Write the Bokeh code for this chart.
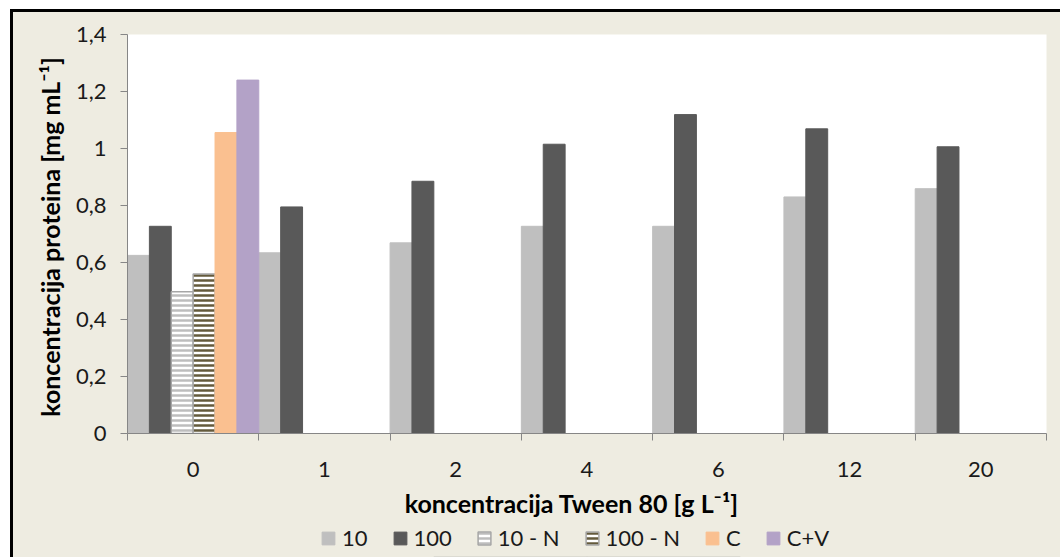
from bokeh.plotting import figure
from bokeh.models import (Range1d, FixedTicker, Legend, LegendItem, ColumnDataSource)
from bokeh.layouts import column
from bokeh.embed import file_html
from bokeh.resources import INLINE

categories = ["0", "1", "2", "4", "6", "12", "20"]
series_names = ["10", "100", "10 - N", "100 - N", "C", "C+V"]
s10 = [0.625, 0.634, 0.669, 0.727, 0.727, 0.830, 0.859]
s100 = [0.727, 0.795, 0.885, 1.015, 1.119, 1.069, 1.006]
s10N = [0.497]
s100N = [0.560]
sC = [1.056]
sCV = [1.240]
y_ticks = [0, 0.2, 0.4, 0.6, 0.8, 1.0, 1.2, 1.4]
y_tick_labels = ["0", "0,2", "0,4", "0,6", "0,8", "1", "1,2", "1,4"]

FONT = "Lato"
AXIS_GRAY = "#868686"
BG = "#EEECE1"
W = 1047

p = figure(width=W, height=513, output_backend="svg", toolbar_location=None,
           x_range=Range1d(0, len(categories)), y_range=Range1d(0, 1.4),
           min_border_left=114, min_border_top=22, min_border_right=14, min_border_bottom=92)
p.background_fill_color = "white"
p.border_fill_color = BG
p.outline_line_color = None
p.xgrid.visible = False
p.ygrid.visible = False

nser = len(series_names)
bw = 1.0 / nser

styles = [
    dict(fill_color="#BFBFBF", line_color="#BFBFBF"),
    dict(fill_color="#595959", line_color="#595959"),
    dict(fill_color="white", line_color="#A6A6A6", line_width=1.5,
         hatch_pattern="horizontal_line", hatch_color="#BDBDBD", hatch_scale=5, hatch_weight=2.5),
    dict(fill_color="white", line_color="#A6A6A6", line_width=1.5,
         hatch_pattern="horizontal_line", hatch_color="#645A3C", hatch_scale=5, hatch_weight=2.5),
    dict(fill_color="#FAC090", line_color="#FAC090"),
    dict(fill_color="#B3A2C7", line_color="#B3A2C7"),
]
all_series = [s10, s100, s10N, s100N, sC, sCV]

sources = []
for j, vals in enumerate(all_series):
    xs = [i + (j + 0.5) * bw for i in range(len(vals))]
    src = ColumnDataSource(dict(x=xs, top=vals))
    sources.append(src)
    p.vbar(x="x", top="top", width=bw, bottom=0, source=src, **styles[j])

# axes
p.xaxis.ticker = FixedTicker(ticks=[i + 0.5 for i in range(len(categories))],
                             minor_ticks=list(range(len(categories) + 1)))
p.xaxis.major_label_overrides = {i + 0.5: c for i, c in enumerate(categories)}
p.xaxis.major_tick_line_color = None
p.xaxis.minor_tick_out = 7
p.xaxis.minor_tick_in = 0
p.xaxis.minor_tick_line_color = AXIS_GRAY
p.xaxis.axis_line_color = AXIS_GRAY
p.xaxis.major_label_standoff = 21
p.xaxis.axis_label = "koncentracija Tween 80 [g L\u207b\u00b9]" + "\u00a0" * 5
p.xaxis.axis_label_standoff = 8

p.yaxis.ticker = FixedTicker(ticks=y_ticks, minor_ticks=[])
p.yaxis.major_label_overrides = {t: l for t, l in zip(y_ticks, y_tick_labels)}
p.yaxis.major_tick_out = 7
p.yaxis.major_tick_in = 0
p.yaxis.major_tick_line_color = AXIS_GRAY
p.yaxis.axis_line_color = AXIS_GRAY
p.yaxis.major_label_standoff = 14
p.yaxis.axis_label = "koncentracija proteina  [mg mL\u207b\u00b9]"
p.yaxis.axis_label_standoff = 8

for ax in (p.xaxis, p.yaxis):
    ax.major_label_text_font = FONT
    ax.major_label_text_font_size = "22px"
    ax.major_label_text_color = "#1a1a1a"
    ax.axis_label_text_font = FONT
    ax.axis_label_text_font_size = "25px"
    ax.axis_label_text_font_style = "bold"
    ax.axis_label_text_color = "black"

# legend strip (its own figure so the legend is not clipped by the main frame);
# its renderers share the series data but lie outside this strip's ranges
lg = figure(width=W, height=32, output_backend="svg", toolbar_location=None,
            x_range=Range1d(0, 1), y_range=Range1d(10, 11),
            min_border_left=0, min_border_right=0, min_border_top=0, min_border_bottom=0)
lg.axis.visible = False
lg.xgrid.visible = False
lg.ygrid.visible = False
lg.outline_line_color = None
lg.background_fill_color = BG
lg.border_fill_color = BG

leg_renderers = []
for j in range(nser):
    leg_renderers.append(lg.vbar(x="x", top="top", width=bw, bottom=0, source=sources[j], **styles[j]))

legend = Legend(items=[LegendItem(label=n, renderers=[r]) for n, r in zip(series_names, leg_renderers)],
                orientation="horizontal", location=(193, 6))
legend.label_text_font = FONT
legend.label_text_font_size = "22px"
legend.label_text_color = "#1a1a1a"
legend.glyph_width = 16
legend.glyph_height = 16
legend.label_standoff = 6
legend.label_width = 10
legend.spacing = 24
legend.padding = 0
legend.margin = 0
legend.border_line_color = None
legend.background_fill_alpha = 0
lg.add_layout(legend, "center")

layout = column(p, lg, spacing=0)
layout.styles = {"border-top": "3px solid black", "border-left": "3px solid black",
                 "transform": "translate(10px, 9px)", "background-color": BG}

open("out.html", "w").write(file_html(layout, INLINE))
